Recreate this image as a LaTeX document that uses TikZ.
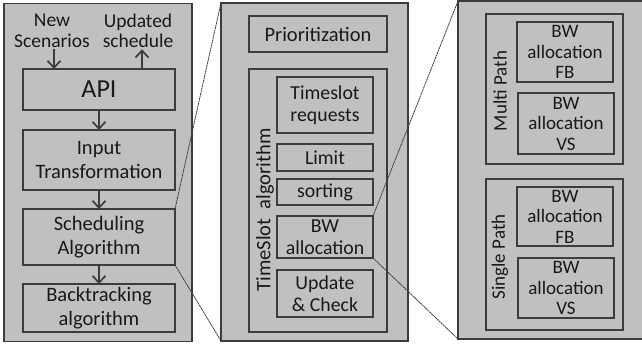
\documentclass[tikz,border=0pt]{standalone}
\usepackage{fontspec}
\setmainfont{Carlito}
\usepackage{tikz}
\usetikzlibrary{arrows.meta,positioning}
\definecolor{panelgray}{RGB}{192,192,192}
\definecolor{edgegray}{RGB}{60,60,60}
\definecolor{textgray}{RGB}{25,25,25}

\begin{document}
\begin{tikzpicture}[x=1pt,y=-1pt,
				panel/.style ={rectangle, draw=edgegray, fill=panelgray,
					line width=1.5pt, outer sep=0pt},
				block_main/.style ={rectangle, draw=edgegray, line width=1.2pt,
					minimum width=152, inner sep=0pt, outer sep=0pt, align=center,
					text=textgray, font=\fontsize{20.5}{24}\selectfont},
				block_ts/.style ={block_main, minimum width=96,
					font=\fontsize{19.8}{22}\selectfont},
				block_bw/.style ={block_main, minimum width=96, minimum height=60,
					font=\fontsize{19}{20.5}\selectfont},
				group/.style ={rectangle, draw=edgegray, line width=1.2pt,
					minimum width=137, outer sep=0pt},
				side_label/.style ={rotate=90, inner sep=0pt, text=textgray},
				top_label/.style ={inner sep=1pt, align=center, text=textgray,
					font=\fontsize{19.5}{20.5}\selectfont},
				zoomline/.style ={draw=edgegray, line width=0.8pt,
					dash pattern=on 2pt off 0.6pt}]
				\tikzstyle{arrow} = [draw=edgegray, line width=1.7pt,
					-{Straight Barb[length=7pt,width=13pt,line width=1.7pt]}]

				\useasboundingbox (0,0) rectangle (642,348);
				\clip (0,0) rectangle (642,348);

				% the three panels
				\node [panel, minimum width=188, minimum height=338] (sys) at (98,172.5) {};
				\node [panel, minimum width=187, minimum height=338] (tsp) at (314.5,171.8) {};
				\node [panel, minimum width=202, minimum height=338] (bwp) at (559,170) {};

				% panel 1 - scheduler
				\node [top_label] (newsc) at (52,31) {New\\Scenarios};
				\node [top_label] (updsc) at (138,31) {Updated\\schedule};
				\node [block_main, minimum height=41, font=\fontsize{26}{28}\selectfont] (api) at (99,89.5) {API};
				\node [block_main, minimum height=60] (input) at (99,160) {Input\\Transformation};
				\node [block_main, minimum height=56] (sched) at (99,237) {Scheduling\\Algorithm};
				\node [block_main, minimum height=48] (back) at (99,308) {Backtracking\\algorithm};

				% panel 2 - timeslot algorithm
				\node [block_main, minimum width=138, minimum height=36] (prio) at (318,34) {Prioritization};
				\node [group, minimum width=138, minimum height=263] (tsalg) at (318,200.5) {};
				\node [side_label, font=\fontsize{20.5}{22}\selectfont] (tslabel) at (265,210) {TimeSlot\hspace{0.45em}algorithm};
				\node [block_ts, minimum height=56] (tsreq) at (325,105) {Timeslot\\requests};
				\node [block_ts, minimum height=27] (limit) at (325,157.5) {Limit};
				\node [block_ts, minimum height=26] (sorting) at (325,192) {sorting};
				\node [block_ts, minimum height=42] (bw) at (325,237) {BW\\allocation};
				\node [block_ts, minimum height=47] (update) at (325,293.5) {Update\\\& Check};

				% panel 3 - bandwidth allocation
				\node [group, minimum height=150] (multi) at (554.5,89) {};
				\node [side_label, font=\fontsize{19}{20}\selectfont] (multilabel) at (500,91) {Multi Path};
				\node [block_bw] (fbmulti) at (565,52) {BW\\allocation\\FB};
				\node [block_bw, minimum height=61] (vsmulti) at (566,123.5) {BW\\allocation\\VS};
				\node [group, minimum height=151] (single) at (554.5,254.5) {};
				\node [side_label, font=\fontsize{19}{20}\selectfont] (singlelabel) at (500,257) {Single Path};
				\node [block_bw, minimum height=59] (fbsingle) at (565,216.5) {BW\\allocation\\FB};
				\node [block_bw] (vssingle) at (566,288) {BW\\allocation\\VS};

				% connecting nodes with paths
				\begin{scope}[every path/.style=arrow]
					\path ([xshift=2pt]newsc.south) -- ([xshift=2pt]newsc.south |- api.north);
					\path ([xshift=4pt]updsc.south |- api.north) -- ([xshift=4pt]updsc.south);
					\path (api) -- (input);
					\path (input) -- (sched);
					\path (sched) -- (back);
				\end{scope}
				% zoom lines between panels
				\begin{scope}[every path/.style=zoomline]
					\path (sched.north east) -- (tsp.north west);
					\path (sched.south east) -- (tsp.south west);
					\path (bw.north east) -- (bwp.north west);
					\path (bw.south east) -- (bwp.south west);
				\end{scope}
			\end{tikzpicture}
\end{document}
